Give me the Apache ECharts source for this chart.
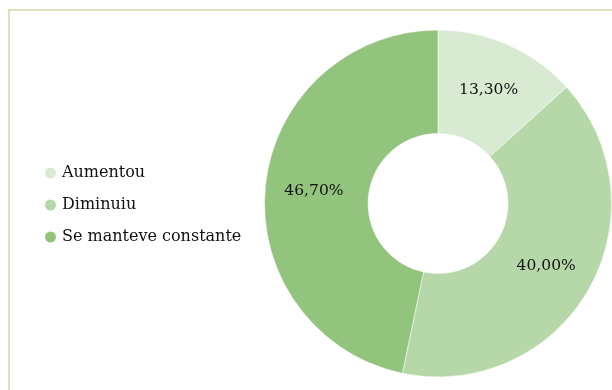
<!DOCTYPE html>
<html><head><meta charset="utf-8">
<script src="https://cdn.jsdelivr.net/npm/echarts@6/dist/echarts.min.js"></script>
<style>html,body{margin:0;padding:0;background:#fff}#c{width:612px;height:390px}</style>
</head><body><div id="c"></div>
<script>
const categories = ["Aumentou", "Diminuiu", "Se manteve constante"];
const values = [13.3, 40.0, 46.7];
const colors = ["#d9ead3", "#b6d7a8", "#93c47d"];

const chart = echarts.init(document.getElementById('c'), null, {renderer: 'canvas'});
chart.setOption({
  animation: false,
  backgroundColor: '#fff',
  color: colors,
  graphic: [{
    type: 'rect',
    shape: {x: 9, y: 10, width: 800, height: 600},
    style: {fill: 'none', stroke: '#d9e4bc', lineWidth: 2},
    silent: true, z: -1
  }],
  legend: {
    orient: 'vertical',
    left: 38, top: 160,
    icon: 'circle',
    itemWidth: 13, itemHeight: 13,
    itemGap: 16,
    textStyle: {fontFamily: 'DejaVu Serif', fontSize: 16, color: '#111'},
    data: categories
  },
  series: [{
    type: 'pie',
    center: [438, 203.5],
    radius: [70, 173.5],
    startAngle: 90,
    clockwise: true,
    label: {
      show: true, position: 'inner',
      fontFamily: 'DejaVu Serif', fontSize: 15.5, color: '#111',
      formatter: p => p.value.toFixed(2).replace('.', ',') + '%'
    },
    labelLine: {show: false},
    itemStyle: {borderColor: '#fff', borderWidth: 0.5},
    emphasis: {disabled: true},
    data: categories.map((n, i) => ({name: n, value: values[i]}))
  }]
});
</script></body></html>
